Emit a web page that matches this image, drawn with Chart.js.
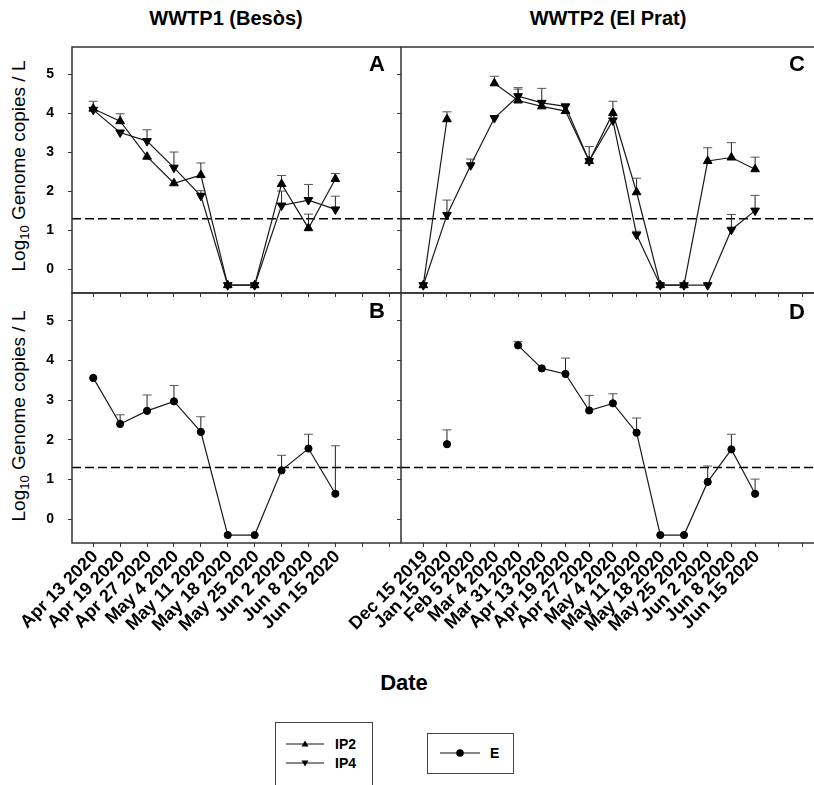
<!DOCTYPE html>
<html>
<head>
<meta charset="utf-8">
<script src="https://cdn.jsdelivr.net/npm/chart.js@4.4.1/dist/chart.umd.min.js"></script>
<style>
  html, body { margin: 0; padding: 0; background: #fff; width: 814px; height: 785px; overflow: hidden; }
  body { position: relative; font-family: 'Liberation Sans', Arial, sans-serif; color: #000; }
  canvas { position: absolute; }
  .title { position: absolute; top: 6px; font-weight: bold; font-size: 20px; line-height: 24px; white-space: nowrap; transform: translateX(-50%); }
  .ytitle { position: absolute; font-size: 19px; line-height: 22px; white-space: nowrap; transform: translate(-50%, -50%) rotate(-90deg); }
  .ytitle sub { font-size: 13px; }
  .letter { position: absolute; font-weight: bold; font-size: 22px; line-height: 24px; transform: translate(-50%, -50%); }
  .xtitle { position: absolute; left: 404px; top: 683px; font-weight: bold; font-size: 22px; line-height: 26px; transform: translate(-50%, -50%); }
  .legend { position: absolute; border: 1px solid #444; background: #fff; }
  .lrow { position: absolute; font-weight: bold; font-size: 14px; line-height: 16px; }
  .lrow svg { position: absolute; }
  .lrow span { position: absolute; white-space: nowrap; }
</style>
</head>
<body>

<div class="title" style="left:226px">WWTP1 (Besòs)</div>
<div class="title" style="left:608px">WWTP2 (El Prat)</div>

<div class="ytitle" style="left:22px; top:166px">Log<sub>10</sub> Genome copies / L</div>
<div class="ytitle" style="left:22px; top:416px">Log<sub>10</sub> Genome copies / L</div>

<canvas id="panelA" width="402" height="262" style="left:0; top:40px"></canvas>
<canvas id="panelB" width="402" height="364" style="left:0; top:286px"></canvas>
<canvas id="panelC" width="500" height="262" style="left:330px; top:40px"></canvas>
<canvas id="panelD" width="500" height="364" style="left:330px; top:286px"></canvas>

<div class="letter" style="left:377px; top:64px">A</div>
<div class="letter" style="left:377px; top:311px">B</div>
<div class="letter" style="left:797px; top:64px">C</div>
<div class="letter" style="left:797px; top:312px">D</div>

<div class="xtitle">Date</div>

<!-- legends -->
<div class="legend" style="left:275px; top:722px; width:96px; height:80px"></div>
<div class="lrow" style="left:286px; top:736px">
  <svg width="40" height="16" style="left:0; top:0"><line x1="0" y1="8" x2="38" y2="8" stroke="#111" stroke-width="1.2"/><polygon points="19,4.5 15.5,10.5 22.5,10.5" fill="#000"/></svg>
  <span style="left:49px; top:0">IP2</span>
</div>
<div class="lrow" style="left:286px; top:755px">
  <svg width="40" height="16" style="left:0; top:0"><line x1="0" y1="8" x2="38" y2="8" stroke="#111" stroke-width="1.2"/><polygon points="19,11.5 15.5,5.5 22.5,5.5" fill="#000"/></svg>
  <span style="left:49px; top:0">IP4</span>
</div>
<div class="legend" style="left:427px; top:733px; width:85px; height:39px"></div>
<div class="lrow" style="left:440px; top:745px">
  <svg width="42" height="16" style="left:0; top:0"><line x1="0" y1="8" x2="40" y2="8" stroke="#111" stroke-width="1.2"/><circle cx="20" cy="8" r="3.8" fill="#000"/></svg>
  <span style="left:50px; top:0">E</span>
</div>

<script>
// sampling dates
const datesWWTP1 = ['Apr 13 2020', 'Apr 19 2020', 'Apr 27 2020', 'May 4 2020', 'May 11 2020',
                    'May 18 2020', 'May 25 2020', 'Jun 2 2020', 'Jun 8 2020', 'Jun 15 2020'];
const datesWWTP2 = ['Dec 15 2019', 'Jan 15 2020', 'Feb 5 2020', 'Mar 4 2020', 'Mar 31 2020',
                    'Apr 13 2020', 'Apr 19 2020', 'Apr 27 2020', 'May 4 2020', 'May 11 2020',
                    'May 18 2020', 'May 25 2020', 'Jun 2 2020', 'Jun 8 2020', 'Jun 15 2020'];

const yTicks = [0, 1, 2, 3, 4, 5];
const LOD = 1.3;   // limit of detection (dashed line)

// A: WWTP1, IP2 / IP4   (*Up = top of the error bar)
const ip2A   = [4.12, 3.80, 2.89, 2.21, 2.42, -0.4, -0.4, 2.19, 1.06, 2.32];
const ip2AUp = [4.31, 3.99, null, null, 2.73, null, null, 2.41, 1.42, 2.46];
const ip4A   = [4.09, 3.51, 3.29, 2.61, 1.89, -0.4, -0.4, 1.64, 1.78, 1.54];
const ip4AUp = [null, null, 3.58, 3.01, 2.02, null, null, 2.01, 2.18, 1.88];

// B: WWTP1, E
const eB   = [3.56, 2.40, 2.73, 2.97, 2.20, -0.4, -0.4, 1.23, 1.78, 0.64];
const eBUp = [null, 2.63, 3.13, 3.37, 2.58, null, null, 1.61, 2.14, 1.85];

// C: WWTP2, IP2 / IP4
const ip2C   = [-0.4, 3.85, null, 4.77, 4.33, 4.18, 4.06, 2.78, 4.01, 1.98, -0.4, -0.4, 2.78, 2.87, 2.57];
const ip2CUp = [null, 4.04, null, 4.95, 4.62, null, null, 3.15, 4.31, 2.34, null, null, 3.12, 3.25, 2.88];
const ip4C   = [-0.4, 1.40, 2.67, 3.88, 4.44, 4.27, 4.18, 2.78, 3.82, 0.89, -0.4, -0.4, -0.4, 1.02, 1.51];
const ip4CUp = [null, 1.78, 2.83, null, 4.66, 4.64, 4.23, null, null, 0.98, null, null, null, 1.41, 1.90];

// D: WWTP2, E
const eD   = [null, 1.89, null, null, 4.38, 3.80, 3.66, 2.74, 2.92, 2.18, -0.4, -0.4, 0.94, 1.76, 0.64];
const eDUp = [null, 2.25, null, null, 4.48, null, 4.06, 3.12, 3.16, 2.55, null, null, 1.34, 2.14, 1.01];

const FONT = "'Liberation Sans', Arial, sans-serif";
Chart.defaults.font.family = FONT;

function toPoints(values) {
    return values.map((v, i) => ({ x: i, y: v }));
}

function series(values, upper, style) {
    const ds = {
        data: toPoints(values),
        upper: upper,
        borderColor: '#1a1a1a',
        borderWidth: 1.2,
        pointBackgroundColor: '#000',
        pointBorderColor: '#000',
        pointBorderWidth: 1,
        spanGaps: false,
        tension: 0,
        fill: false
    };
    if (style === 'up') { ds.pointStyle = 'triangle'; ds.pointRadius = 5; ds.pointRotation = 0; }
    if (style === 'down') { ds.pointStyle = 'triangle'; ds.pointRadius = 5; ds.pointRotation = 180; }
    if (style === 'dot') { ds.pointStyle = 'circle'; ds.pointRadius = 3.6; }
    return ds;
}

// frame, LOD line, error bars, y tick labels and rotated date labels
function panelPlugin(cfg) {
    return {
        id: 'panelExtras',
        beforeDatasetsDraw(chart) {
            const ctx = chart.ctx;
            const a = chart.chartArea;
            const x = chart.scales.x, y = chart.scales.y;
            ctx.save();
            ctx.strokeStyle = '#000';
            ctx.lineWidth = 1.5;
            ctx.setLineDash([9, 4]);
            const yl = y.getPixelForValue(LOD);
            ctx.beginPath();
            ctx.moveTo(a.left, yl);
            ctx.lineTo(a.right, yl);
            ctx.stroke();
            ctx.setLineDash([]);

            ctx.lineWidth = 1;
            chart.data.datasets.forEach(ds => {
                (ds.upper || []).forEach((u, i) => {
                    const v = ds.data[i].y;
                    if (u == null || v == null) return;
                    const px = x.getPixelForValue(i);
                    const py = y.getPixelForValue(v);
                    const pu = y.getPixelForValue(u);
                    ctx.strokeStyle = '#222';
                    ctx.beginPath();
                    ctx.moveTo(px, py);
                    ctx.lineTo(px, pu);
                    ctx.stroke();
                    ctx.strokeStyle = '#555';
                    ctx.beginPath();
                    ctx.moveTo(px - 4.5, pu);
                    ctx.lineTo(px + 4.5, pu);
                    ctx.stroke();
                });
            });
            ctx.restore();
        },
        afterDraw(chart) {
            const ctx = chart.ctx;
            const a = chart.chartArea;
            const x = chart.scales.x, y = chart.scales.y;
            ctx.save();
            // frame: top, left, bottom (right side is the neighbour's left / off page)
            ctx.strokeStyle = '#333';
            ctx.lineWidth = 1.5;
            ctx.beginPath();
            ctx.moveTo(a.right, a.top);
            ctx.lineTo(a.left, a.top);
            ctx.lineTo(a.left, a.bottom);
            ctx.lineTo(a.right, a.bottom);
            ctx.stroke();

            ctx.fillStyle = '#000';
            if (cfg.yLabels) {
                ctx.font = 'bold 14px ' + FONT;
                ctx.textAlign = 'right';
                ctx.textBaseline = 'middle';
                yTicks.forEach(v => ctx.fillText(String(v), a.left - 18, y.getPixelForValue(v)));
            }
            if (cfg.dates) {
                ctx.font = 'bold 18px ' + FONT;
                ctx.textAlign = 'right';
                ctx.textBaseline = 'middle';
                cfg.dates.forEach((t, i) => {
                    ctx.save();
                    ctx.translate(x.getPixelForValue(i) + 2, a.bottom + 11);
                    ctx.rotate(-Math.PI / 4);
                    ctx.fillText(t, 0, 0);
                    ctx.restore();
                });
            }
            ctx.restore();
        }
    };
}

function drawPanel(id, datasets, cfg) {
    const xTickValues = [];
    for (let i = 0; i < cfg.nTicks; i++) xTickValues.push(i);

    new Chart(document.getElementById(id).getContext('2d'), {
        type: 'line',
        data: { datasets: datasets },
        options: {
            responsive: false,
            animation: false,
            events: [],
            layout: { padding: cfg.padding, autoPadding: false },
            plugins: { legend: { display: false }, tooltip: { enabled: false } },
            scales: {
                x: {
                    type: 'linear',
                    min: cfg.xMin,
                    max: cfg.xMax,
                    afterBuildTicks: s => { s.ticks = xTickValues.map(v => ({ value: v })); },
                    afterFit: s => { s.height = 0; },
                    ticks: { display: false },
                    border: { display: false },
                    grid: { drawOnChartArea: false, drawTicks: true, tickLength: 4, color: '#333', lineWidth: 1 }
                },
                y: {
                    min: -0.6,
                    max: 5.7,
                    afterBuildTicks: s => { s.ticks = yTicks.map(v => ({ value: v })); },
                    afterFit: s => { s.width = cfg.yWidth; },
                    ticks: { display: false },
                    border: { display: false },
                    grid: { drawOnChartArea: false, drawTicks: true, tickLength: 4, color: '#333', lineWidth: 1 }
                }
            }
        },
        plugins: [panelPlugin(cfg)]
    });
}

function drawAll() {
    const left = { xMin: -0.79, xMax: 11.44, nTicks: 12, yWidth: 72, yLabels: true };
    const right = { xMin: -0.94, xMax: 17.16, nTicks: 17, yWidth: 71, yLabels: false };

    drawPanel('panelA', [series(ip2A, ip2AUp, 'up'), series(ip4A, ip4AUp, 'down')],
        Object.assign({}, left, { padding: { top: 7, right: 1, bottom: 9, left: 0 } }));
    drawPanel('panelB', [series(eB, eBUp, 'dot')],
        Object.assign({}, left, { padding: { top: 7, right: 1, bottom: 107, left: 0 }, dates: datesWWTP1 }));
    drawPanel('panelC', [series(ip2C, ip2CUp, 'up'), series(ip4C, ip4CUp, 'down')],
        Object.assign({}, right, { padding: { top: 7, right: 0, bottom: 9, left: 0 } }));
    drawPanel('panelD', [series(eD, eDUp, 'dot')],
        Object.assign({}, right, { padding: { top: 7, right: 0, bottom: 107, left: 0 }, dates: datesWWTP2 }));
}

window.addEventListener('load', drawAll);
</script>
</body>
</html>
